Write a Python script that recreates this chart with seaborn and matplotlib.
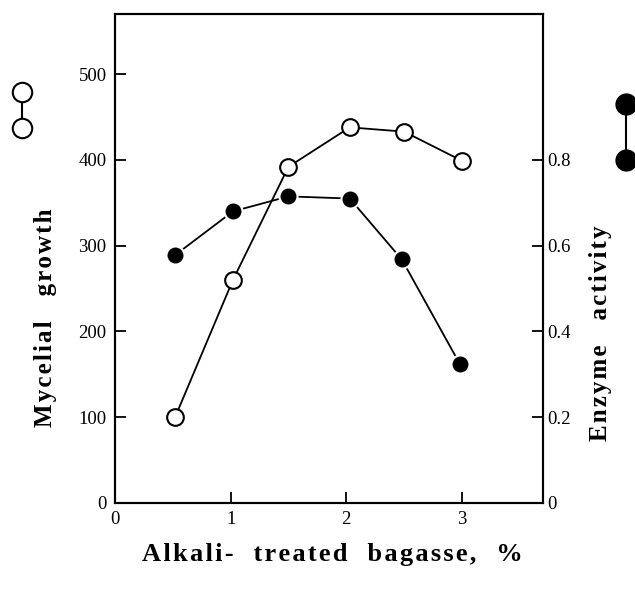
import matplotlib
matplotlib.use("Agg")
import matplotlib.pyplot as plt
from matplotlib.lines import Line2D
import pandas as pd
import seaborn as sns

# alkali-treated bagasse, %
bagasse = [0.52, 1.02, 1.5, 2.03, 2.5, 3.0]
# mycelial growth (open circles, left axis)
growth = [100, 260, 392, 438, 433, 399]
# enzyme activity (filled circles, right axis)
bagasse_enz = [0.52, 1.02, 1.5, 2.03, 2.48, 2.98]
activity = [0.578, 0.68, 0.715, 0.71, 0.568, 0.325]

x_ticks = [0, 1, 2, 3]
left_ticks = [0, 100, 200, 300, 400, 500]
right_ticks = [0, 0.2, 0.4, 0.6, 0.8]
right_labels = ["0", "0.2", "0.4", "0.6", "0.8"]


def spaced(words, gap="    "):
    # letter-spaced text like the typeset original
    return gap.join("\u200a".join(w) for w in words)


sns.set_style("ticks")
plt.rcParams["font.family"] = ["Liberation Serif", "DejaVu Serif"]
plt.rcParams["text.color"] = "black"

df_g = pd.DataFrame({"x": bagasse, "y": growth})
df_a = pd.DataFrame({"x": bagasse_enz, "y": activity})

fig = plt.figure(figsize=(6.35, 5.9), dpi=100)
ax = fig.add_axes([0.181, 0.1475, 0.674, 0.8285])
ax2 = ax.twinx()

sns.lineplot(data=df_a, x="x", y="y", ax=ax2, color="black", lw=1.3,
             marker="o", markersize=13, markerfacecolor="black",
             markeredgecolor="white", markeredgewidth=1.5)
sns.lineplot(data=df_g, x="x", y="y", ax=ax, color="black", lw=1.3,
             marker="o", markersize=12, markerfacecolor="white",
             markeredgecolor="black", markeredgewidth=1.5, zorder=5)
ax.set_zorder(ax2.get_zorder() + 1)
ax.patch.set_visible(False)

ax.set_xlim(0, 3.7)
ax.set_ylim(0, 570)
ax2.set_ylim(0, 1.14)
ax.set_xticks(x_ticks)
ax.set_yticks(left_ticks)
ax2.set_yticks(right_ticks)
ax2.set_yticklabels(right_labels)

for a in (ax, ax2):
    for s in a.spines.values():
        s.set_linewidth(1.5)
        s.set_color("black")
    a.set_xlabel("")
    a.set_ylabel("")
ax.tick_params(axis="both", direction="in", length=8, width=1.3,
               labelsize=13.5, colors="black", labelcolor="black", pad=6)
ax2.tick_params(axis="y", direction="in", length=8, width=1.3,
                labelsize=13.5, colors="black", labelcolor="black", pad=3)

fig.text(0.524, 0.06, spaced(["Alkali-", "treated", "bagasse,", "%"], gap="   "),
         ha="center", va="center", fontsize=19, fontweight="bold", color="black")
fig.text(0.071, 0.461, spaced(["Mycelial", "growth"]), rotation=90,
         ha="center", va="center", fontsize=18, fontweight="bold", color="black")
fig.text(0.945, 0.436, spaced(["Enzyme", "activity"]), rotation=90,
         ha="center", va="center", fontsize=18, fontweight="bold", color="black")

# symbol keys beside the axis titles
fig.add_artist(Line2D([0.035, 0.035], [1 - 92 / 590, 1 - 128 / 590], lw=1.5,
                      color="black", marker="o", markersize=14,
                      markerfacecolor="white", markeredgecolor="black",
                      markeredgewidth=1.5, transform=fig.transFigure))
fig.add_artist(Line2D([0.986, 0.986], [1 - 104 / 590, 1 - 160 / 590], lw=1.5,
                      color="black", marker="o", markersize=15,
                      markerfacecolor="black", markeredgecolor="black",
                      transform=fig.transFigure))

fig.savefig("out.png", dpi=100)
